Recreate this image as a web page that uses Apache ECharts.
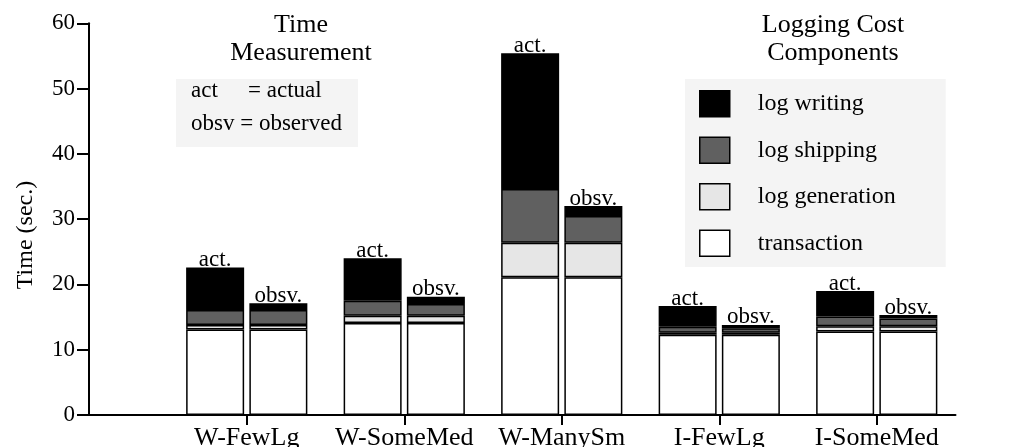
<!DOCTYPE html>
<html>
<head>
<meta charset="utf-8">
<script src="https://cdn.jsdelivr.net/npm/echarts@6/dist/echarts.min.js"></script>
<style>
  html, body { margin: 0; padding: 0; background: #fff; }
  #chart { width: 1021px; height: 447px; }
</style>
</head>
<body>
<div id="chart"></div>
<script>
const categories = ['W-FewLg', 'W-SomeMed', 'W-ManySm', 'I-FewLg', 'I-SomeMed'];
const yTicks = [0, 10, 20, 30, 40, 50, 60];
const components = ['transaction', 'log generation', 'log shipping', 'log writing'];
const legendOrder = ['log writing', 'log shipping', 'log generation', 'transaction'];

// act. bars (seconds)
const actTransaction = [13.1, 14.1, 21.1, 12.3, 12.8];
const actGeneration  = [0.7, 1.1, 5.3, 0.3, 0.8];
const actShipping    = [2.3, 2.3, 8.2, 0.9, 1.5];
const actWriting     = [6.5, 6.5, 20.8, 3.2, 3.9];

// obsv. bars (seconds)
const obsvTransaction = [13.1, 14.1, 21.1, 12.3, 12.8];
const obsvGeneration  = [0.7, 1.1, 5.3, 0.3, 0.8];
const obsvShipping    = [2.3, 1.8, 4.1, 0.7, 1.2];
const obsvWriting     = [1.0, 1.1, 1.5, 0.5, 0.5];

const FONT = "'Liberation Serif', 'DejaVu Serif', serif";

const COLORS = {
  'transaction': '#ffffff',
  'log generation': '#e6e6e6',
  'log shipping': '#606060',
  'log writing': '#000000'
};

const chart = echarts.init(document.getElementById('chart'));

// one stacked column per measurement type
function makeStack(stack, labelText, arrays) {
  return components.map((name, i) => ({
    name: name,
    type: 'bar',
    stack: stack,
    xAxisIndex: 1,
    yAxisIndex: 1,
    barWidth: 58,
    barGap: '9%',
    data: arrays[i],
    itemStyle: { color: COLORS[name], borderColor: '#000', borderWidth: 1.5 },
    label: i === components.length - 1 ? {
      show: true,
      position: 'top',
      distance: -4,
      formatter: labelText,
      color: '#000',
      fontFamily: FONT,
      fontSize: 23
    } : { show: false },
    emphasis: { disabled: true }
  }));
}

const series = [
  ...makeStack('act', 'act.', [actTransaction, actGeneration, actShipping, actWriting]),
  ...makeStack('obsv', 'obsv.', [obsvTransaction, obsvGeneration, obsvShipping, obsvWriting])
];

const option = {
  animation: false,
  backgroundColor: '#fff',
  grid: [
    { left: 89, right: 65.5, top: 23.3, bottom: 32, outerBoundsMode: 'none', containLabel: false },
    { left: 168, right: 65.5, top: 23.3, bottom: 32, outerBoundsMode: 'none', containLabel: false }
  ],
  xAxis: [
    {
      gridIndex: 0, type: 'value', min: 0, max: 1,
      axisLine: { show: true, lineStyle: { color: '#000', width: 2 } },
      axisTick: { show: false }, axisLabel: { show: false }, splitLine: { show: false }
    },
    {
      gridIndex: 1, type: 'category', data: categories,
      axisLine: { show: false },
      axisTick: { show: true, alignWithLabel: true, length: 10, lineStyle: { color: '#000', width: 2 } },
      axisLabel: { color: '#000', fontFamily: FONT, fontSize: 26, margin: 10, interval: 0 },
      splitLine: { show: false }
    }
  ],
  yAxis: [
    {
      gridIndex: 0, type: 'value',
      min: yTicks[0], max: yTicks[yTicks.length - 1], interval: yTicks[1] - yTicks[0],
      axisLine: { show: true, lineStyle: { color: '#000', width: 2 } },
      axisTick: { show: true, length: 12, lineStyle: { color: '#000', width: 2 } },
      axisLabel: { color: '#000', fontFamily: FONT, fontSize: 23, margin: 14 },
      splitLine: { show: false }
    },
    {
      gridIndex: 1, type: 'value',
      min: yTicks[0], max: yTicks[yTicks.length - 1],
      show: false, splitLine: { show: false }
    }
  ],
  legend: {
    data: legendOrder,
    orient: 'vertical',
    left: 685,
    top: 79,
    itemWidth: 30,
    itemHeight: 26,
    itemGap: 19,
    icon: 'rect',
    selectedMode: false,
    padding: [11, 50, 10, 14],
    backgroundColor: '#f4f4f4',
    itemStyle: { borderColor: '#000', borderWidth: 1.5 },
    textStyle: { color: '#000', fontFamily: FONT, fontSize: 24, padding: [0, 0, 0, 23] }
  },
  graphic: [
    { type: 'rect', shape: { x: 176, y: 79, width: 182, height: 68 }, style: { fill: '#f4f4f4' }, z: 0 },
    { type: 'text', x: 301, y: 25, style: { text: 'Time', fontFamily: FONT, fontSize: 26, fill: '#000', textAlign: 'center', textVerticalAlign: 'middle' } },
    { type: 'text', x: 301, y: 53, style: { text: 'Measurement', fontFamily: FONT, fontSize: 26, fill: '#000', textAlign: 'center', textVerticalAlign: 'middle' } },
    { type: 'text', x: 833, y: 25, style: { text: 'Logging Cost', fontFamily: FONT, fontSize: 26, fill: '#000', textAlign: 'center', textVerticalAlign: 'middle' } },
    { type: 'text', x: 833, y: 53, style: { text: 'Components', fontFamily: FONT, fontSize: 26, fill: '#000', textAlign: 'center', textVerticalAlign: 'middle' } },
    { type: 'text', x: 191, y: 91, z: 1, style: { text: 'act', fontFamily: FONT, fontSize: 23, fill: '#000', textAlign: 'left', textVerticalAlign: 'middle' } },
    { type: 'text', x: 248, y: 91, z: 1, style: { text: '= actual', fontFamily: FONT, fontSize: 23, fill: '#000', textAlign: 'left', textVerticalAlign: 'middle' } },
    { type: 'text', x: 191, y: 124, z: 1, style: { text: 'obsv = observed', fontFamily: FONT, fontSize: 23, fill: '#000', textAlign: 'left', textVerticalAlign: 'middle' } },
    { type: 'text', x: 26, y: 235, rotation: Math.PI / 2, style: { text: 'Time (sec.)', fontFamily: FONT, fontSize: 24, fill: '#000', textAlign: 'center', textVerticalAlign: 'middle' } }
  ],
  series: series
};

chart.setOption(option);
</script>
</body>
</html>
